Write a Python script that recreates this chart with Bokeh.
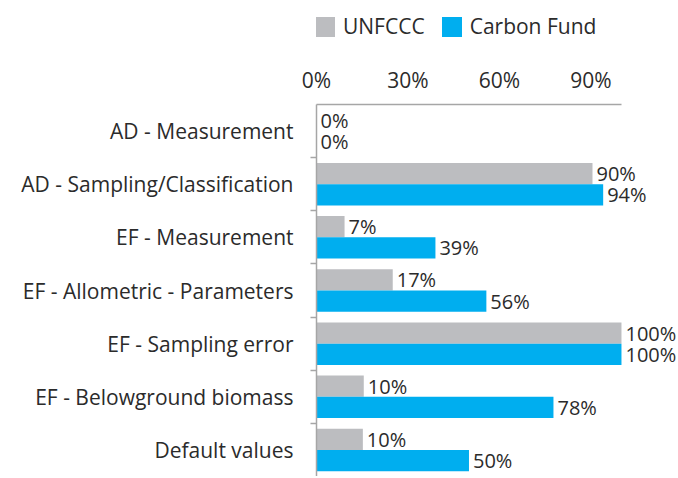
import numpy as np
from bokeh.plotting import figure
from bokeh.layouts import column
from bokeh.models import (ColumnDataSource, Range1d, LinearAxis, FixedTicker,
                          NumeralTickFormatter, LabelSet, Legend, LegendItem)
from bokeh.core.properties import value
from bokeh.embed import file_html
from bokeh.resources import INLINE

categories = ["AD - Measurement", "AD - Sampling/Classification", "EF - Measurement",
              "EF - Allometric - Parameters", "EF - Sampling error",
              "EF - Belowground biomass", "Default values"]
unfccc_bar = [0.0, 0.905, 0.092, 0.25, 1.0, 0.155, 0.152]
carbon_bar = [0.0, 0.94, 0.39, 0.557, 1.0, 0.777, 0.50]
unfccc_labels = ["0%", "90%", "7%", "17%", "100%", "10%", "10%"]
carbon_labels = ["0%", "94%", "39%", "56%", "100%", "78%", "50%"]
series_names = ["UNFCCC", "Carbon Fund"]
x_ticks = [0, 0.3, 0.6, 0.9]

FONT = "Open Sans"
FS = "21px"
FS_LBL = "20px"
TXT = "#2b2b2b"
GRAY = "#bcbdc0"
BLUE = "#00aeef"
AXIS = "#a6a6a6"

W, H = 678, 476
LH = 44

n = len(categories)
centers = np.arange(n) + 0.5
src = ColumnDataSource(dict(
    yg=centers - 0.2, yb=centers + 0.2,
    g=unfccc_bar, b=carbon_bar, gl=unfccc_labels, bl=carbon_labels))

# ---- legend strip (its renderers sit outside the visible ranges) ----
lf = figure(width=W, height=LH, output_backend="svg", toolbar_location=None,
            x_range=Range1d(-20, -19), y_range=Range1d(-20, -19),
            x_axis_location=None, y_axis_location=None,
            min_border_left=0, min_border_right=0, min_border_top=0, min_border_bottom=0)
lf.outline_line_color = None
lf.grid.visible = False
lg = lf.hbar(y="yg", right="g", left=0, height=0.4, source=src, fill_color=GRAY, line_color=None)
lb = lf.hbar(y="yb", right="b", left=0, height=0.4, source=src, fill_color=BLUE, line_color=None)
legend = Legend(items=[LegendItem(label=series_names[0], renderers=[lg]),
                       LegendItem(label=series_names[1], renderers=[lb])],
                location=(-4, 4), orientation="horizontal",
                glyph_width=25, glyph_height=25, label_standoff=6, spacing=14,
                padding=0, margin=0, border_line_color=None, background_fill_alpha=0,
                label_text_font=FONT, label_text_font_size=FS, label_text_color=TXT,
                label_height=25)
lf.add_layout(legend, "center")

# ---- main chart ----
p = figure(width=W, height=H - LH, output_backend="svg", toolbar_location=None,
           x_range=Range1d(0, 1.187), y_range=Range1d(n, 0),
           x_axis_location=None, y_axis_location=None,
           min_border_left=316, min_border_top=60, min_border_bottom=0, min_border_right=0)
p.outline_line_color = None
p.grid.visible = False

p.hbar(y="yg", right="g", left=0, height=0.4, source=src, fill_color=GRAY, line_color=None)
p.hbar(y="yb", right="b", left=0, height=0.4, source=src, fill_color=BLUE, line_color=None)

xa = LinearAxis(ticker=FixedTicker(ticks=x_ticks, minor_ticks=[]),
                formatter=NumeralTickFormatter(format="0%"), bounds=(0, 1.0))
xa.axis_line_color = AXIS
xa.axis_line_width = 1.5
xa.major_tick_line_color = None
xa.major_tick_out = 0
xa.minor_tick_line_color = None
xa.major_label_standoff = 11
xa.major_label_text_font = FONT
xa.major_label_text_font_size = FS
xa.major_label_text_color = TXT
p.add_layout(xa, "above")

ya = LinearAxis(ticker=FixedTicker(ticks=list(centers), minor_ticks=list(range(1, n))),
                major_label_overrides={float(c): name for c, name in zip(centers, categories)})
ya.axis_line_color = AXIS
ya.axis_line_width = 1.5
ya.major_tick_line_color = None
ya.major_tick_out = 0
ya.minor_tick_line_color = AXIS
ya.minor_tick_line_width = 1.5
ya.minor_tick_out = 6
ya.minor_tick_in = 0
ya.major_label_standoff = 17
ya.major_label_text_font = FONT
ya.major_label_text_font_size = FS
ya.major_label_text_color = TXT
p.add_layout(ya, "left")

for xf, yf, tf in [("g", "yg", "gl"), ("b", "yb", "bl")]:
    ls = LabelSet(x=xf, y=yf, text=tf, source=src, x_offset=4,
                  text_align="left", text_baseline="middle",
                  text_font=value(FONT), text_font_size=FS_LBL, text_color=TXT)
    p.add_layout(ls)

layout = column(lf, p, spacing=0)
open("out.html", "w").write(file_html(layout, INLINE))
